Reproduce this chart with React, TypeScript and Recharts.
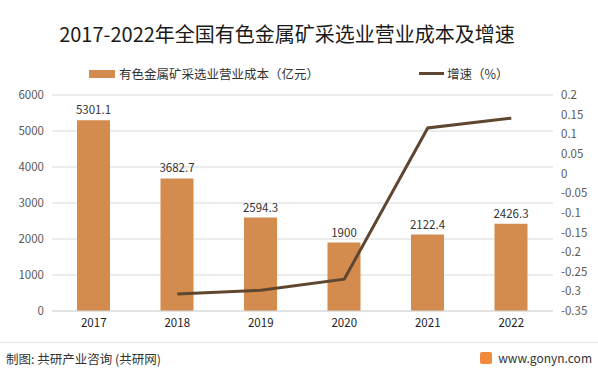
import { ComposedChart, Bar, Line, XAxis, YAxis, CartesianGrid, LabelList } from "recharts";

const years = ["2017", "2018", "2019", "2020", "2021", "2022"];
const costs = [5301.1, 3682.7, 2594.3, 1900, 2122.4, 2426.3];
const growth = [null, -0.307, -0.297, -0.269, 0.116, 0.141];
const leftTicks = [0, 1000, 2000, 3000, 4000, 5000, 6000];
const rightTicks = [-0.35, -0.3, -0.25, -0.2, -0.15, -0.1, -0.05, 0, 0.05, 0.1, 0.15, 0.2];

const data = years.map((y, i) => ({ year: y, cost: costs[i], growth: growth[i] }));

const FONT = '"Noto Sans CJK SC", "Noto Sans", sans-serif';
const BAR = "#D38C4E";
const LINE = "#5E4630";

const fmtRight = (v: number) => {
  const r = Math.round(v * 100) / 100;
  return String(r);
};

export default function App() {
  return (
    <div style={{ position: "absolute", left: 0, top: 0, width: 598, height: 375, background: "#fff", fontFamily: FONT, overflow: "hidden" }}>
      <div style={{ position: "absolute", top: 19, left: 0, width: 574, textAlign: "center", fontSize: 20, color: "#1a1a1a" }}>
        2017-2022年全国有色金属矿采选业营业成本及增速
      </div>
      <div style={{ position: "absolute", top: 64, left: 89, display: "flex", alignItems: "center", fontSize: 12.5, color: "#333" }}>
        <span style={{ display: "inline-block", width: 26, height: 8, background: BAR, marginRight: 4 }} />
        有色金属矿采选业营业成本（亿元）
      </div>
      <div style={{ position: "absolute", top: 64, left: 419, display: "flex", alignItems: "center", fontSize: 12.5, color: "#333" }}>
        <span style={{ display: "inline-block", width: 25, height: 3, background: LINE, marginRight: 3 }} />
        增速（%）
      </div>
      <div style={{ position: "absolute", left: 0, top: 0 }}>
        <ComposedChart width={598} height={340} data={data} margin={{ top: 95, right: 0, left: 0, bottom: 9 }}>
          <CartesianGrid vertical={false} stroke="#D9D9D9" yAxisId="left" />
          <XAxis dataKey="year" axisLine={{ stroke: "#D9D9D9" }} tickLine={false} tick={{ fill: "#222", fontSize: 11.5, fontFamily: FONT }} height={20} />
          <YAxis yAxisId="left" domain={[0, 6000]} ticks={leftTicks} interval={0} axisLine={false} tickLine={false} width={52} tick={{ fill: "#595959", fontSize: 11.5, fontFamily: FONT }} />
          <YAxis yAxisId="right" orientation="right" domain={[-0.35, 0.2]} ticks={rightTicks} interval={0} tickFormatter={fmtRight} axisLine={false} tickLine={false} width={45} tick={{ fill: "#595959", fontSize: 11.5, fontFamily: FONT, textAnchor: "start" }} />
          <Bar yAxisId="left" dataKey="cost" fill={BAR} barSize={33} isAnimationActive={false}>
            <LabelList dataKey="cost" position="top" offset={6} style={{ fill: "#333", fontSize: 11.5, fontFamily: FONT }} />
          </Bar>
          <Line yAxisId="right" dataKey="growth" stroke={LINE} strokeWidth={3} dot={false} isAnimationActive={false} connectNulls={false} />
        </ComposedChart>
      </div>
      <div style={{ position: "absolute", top: 342, left: 0, width: 598, height: 1, background: "#E3E3E3" }} />
      <div style={{ position: "absolute", top: 349, left: 6, fontSize: 12.5, color: "#333" }}>制图: 共研产业咨询 (共研网)</div>
      <div style={{ position: "absolute", top: 349, right: 6, display: "flex", alignItems: "center", fontSize: 12, color: "#333" }}>
        <span style={{ display: "inline-block", width: 12, height: 12, background: "#F08A3C", borderRadius: 2, marginRight: 6 }} />
        www.gonyn.com
      </div>
    </div>
  );
}
